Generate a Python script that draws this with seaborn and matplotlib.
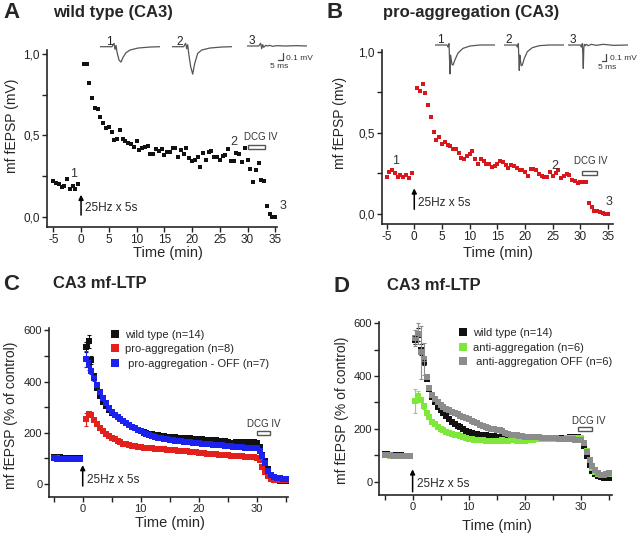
import numpy as np
import pandas as pd
import seaborn as sns
import matplotlib.pyplot as plt
from matplotlib.lines import Line2D
from matplotlib.patches import Rectangle

# sampling grid (min): baseline and post-tetanus
t_base = np.arange(-5.0, 0.0, 0.5)
t_post = np.arange(0.5, 35.01, 0.5)

# ---- panel A: wild type, single slice (mV)
a_base = [0.22, 0.205, 0.20, 0.185, 0.19, 0.23, 0.17, 0.19, 0.17, 0.20]
a_post = [0.936, 0.94, 0.82, 0.73, 0.67, 0.66, 0.615, 0.574, 0.545, 0.55,
          0.52, 0.47, 0.477, 0.53, 0.477, 0.463, 0.45, 0.446, 0.43, 0.463,
          0.41, 0.42, 0.43, 0.436, 0.387, 0.387, 0.418, 0.403, 0.418, 0.377,
          0.40, 0.395, 0.42, 0.42, 0.365, 0.41, 0.387, 0.42, 0.36, 0.344,
          0.35, 0.366, 0.305, 0.39, 0.35, 0.397, 0.405, 0.368, 0.364, 0.348,
          0.372, 0.38, 0.418, 0.342, 0.34, 0.39, 0.385, 0.335, 0.42, 0.35,
          0.296, 0.216, 0.286, 0.327, 0.228, 0.222, 0.068, 0.018, 0.0, 0.0]

# ---- panel B: pro-aggregation, single slice (mV)
b_base = [0.23, 0.26, 0.27, 0.25, 0.23, 0.24, 0.23, 0.24, 0.22, 0.25]
b_post = [0.774, 0.76, 0.80, 0.743, 0.67, 0.60, 0.503, 0.456, 0.476, 0.43,
          0.446, 0.425, 0.419, 0.40, 0.40, 0.374, 0.343, 0.341, 0.357, 0.37,
          0.386, 0.337, 0.306, 0.337, 0.324, 0.31, 0.31, 0.287, 0.296, 0.31,
          0.324, 0.318, 0.30, 0.283, 0.30, 0.293, 0.283, 0.273, 0.269, 0.256,
          0.236, 0.279, 0.279, 0.269, 0.248, 0.236, 0.231, 0.227, 0.256, 0.236,
          0.252, 0.269, 0.219, 0.236, 0.248, 0.242, 0.21, 0.202, 0.194, 0.20,
          0.20, 0.20, 0.07, 0.045, 0.02, 0.017, 0.012, 0.004, 0.0, 0.0]

# ---- panel C: % of control
c_wt_base = [106, 105, 104, 103, 102, 101, 100, 100, 99, 100]
c_wt_post = [535, 557, 485, 420, 375, 345, 322, 303, 288, 276,
             268, 260, 252, 244, 237, 231, 224, 218, 212, 207,
             203, 200, 197, 195, 193, 190, 188, 186, 185, 184,
             183, 182, 181, 180, 180, 179, 178, 177, 176, 175,
             174, 173, 172, 172, 171, 170, 169, 168, 166, 162,
             160, 161, 163, 164, 163, 163, 162, 160, 162, 160,
             146, 115, 88, 58, 32, 18, 14, 12, 12, 12]
c_wt_sem = [20, 25, 15, 10]
c_pro_base = [101, 100, 99, 98, 98, 97, 97, 97, 96, 97]
c_pro_post = [253, 274, 268, 250, 235, 220, 207, 196, 188, 180,
              174, 168, 163, 158, 155, 152, 149, 147, 145, 143,
              142, 141, 140, 139, 138, 137, 136, 135, 134, 133,
              132, 131, 130, 129, 128, 127, 126, 125, 124, 122,
              121, 120, 119, 118, 117, 116, 115, 114, 113, 112,
              111, 110, 110, 109, 108, 107, 106, 105, 104, 103,
              92, 66, 45, 30, 21, 17, 16, 16, 15, 15]
c_pro_sem = [25, 10, 8, 8]
c_off_base = [100, 99, 98, 98, 97, 97, 96, 97, 96, 96]
c_off_post = [488, 465, 440, 413, 385, 361, 337, 315, 298, 283,
              271, 260, 252, 244, 237, 231, 224, 218, 212, 207,
              201, 196, 192, 188, 184, 181, 178, 176, 174, 172,
              170, 169, 167, 166, 165, 164, 163, 161, 160, 159,
              158, 157, 156, 155, 154, 153, 152, 151, 150, 149,
              147, 146, 145, 144, 143, 141, 140, 140, 139, 139,
              128, 110, 82, 52, 35, 26, 23, 22, 21, 21]
c_off_sem = [30, 20, 12, 10]

# ---- panel D: % of control
d_wt_base = [106, 105, 103, 102, 101, 100, 100, 99, 99, 97]
d_wt_post = [538, 557, 500, 452, 390, 350, 320, 300, 283, 272,
             262, 248, 238, 228, 220, 212, 206, 199, 193, 188,
             185, 182, 180, 178, 176, 175, 173, 172, 172, 171,
             171, 170, 170, 170, 170, 169, 169, 169, 168, 168,
             168, 167, 167, 167, 166, 166, 166, 165, 165, 165,
             165, 166, 166, 167, 167, 168, 168, 168, 168, 167,
             135, 97, 62, 42, 30, 21, 16, 13, 13, 13]
d_wt_sem = [15, 25, 20, 10]
d_anti_base = [101, 100, 99, 98, 98, 97, 97, 97, 96, 96]
d_anti_post = [305, 325, 310, 285, 260, 245, 228, 218, 209, 201,
               196, 190, 186, 182, 178, 175, 172, 169, 166, 163,
               161, 159, 158, 157, 157, 156, 156, 156, 156, 156,
               156, 157, 156, 156, 157, 157, 156, 156, 156, 156,
               157, 158, 159, 160, 161, 161, 162, 162, 162, 163,
               163, 163, 163, 163, 164, 164, 164, 165, 165, 165,
               146, 118, 82, 51, 38, 30, 25, 27, 29, 29]
d_anti_sem = [45, 20, 10, 8]
d_off_base = [103, 102, 100, 99, 99, 98, 98, 97, 97, 96]
d_off_post = [545, 560, 490, 465, 395, 355, 330, 313, 300, 290,
              282, 276, 270, 265, 260, 255, 250, 245, 240, 236,
              231, 226, 221, 216, 211, 207, 203, 200, 198, 196,
              194, 192, 186, 181, 178, 177, 176, 174, 172, 171,
              170, 169, 169, 168, 168, 167, 167, 166, 165, 165,
              164, 163, 162, 162, 161, 160, 160, 159, 158, 158,
              146, 112, 82, 60, 45, 34, 27, 27, 30, 32]
d_off_sem = [30, 40, 100, 60]

# ---- example fEPSP traces (ms, mV)
trace_a_t = [0, 12, 13, 14, 15, 16, 17, 19, 21, 23, 26, 30, 38, 50, 60]
trace_a1 = [0, 0, 0.03, 0.05, -0.04, 0.02, -0.08, -0.2, -0.23, -0.16,
            -0.09, -0.05, -0.02, -0.005, 0]
trace_a2 = [0, 0, 0.03, 0.05, -0.03, 0.03, -0.1, -0.3, -0.41, -0.25,
            -0.1, -0.05, -0.02, -0.005, 0]
trace_a3 = [0, 0, 0.02, 0.04, -0.04, 0.02, -0.02, 0.01, 0.0, 0.01,
            -0.005, 0.005, 0, 0.005, 0]
trace_b_t = [0, 12, 13, 14, 14.5, 15, 15.5, 16, 17, 18, 20, 23, 28, 35, 45, 60]
trace_b1 = [0, 0, -0.03, 0.02, -0.2, -0.43, -0.15, -0.2, -0.29, -0.3,
            -0.22, -0.12, -0.05, -0.015, 0, 0]
trace_b2 = [0, 0, -0.03, 0.02, -0.18, -0.38, -0.15, -0.22, -0.31, -0.3,
            -0.2, -0.1, -0.04, -0.01, 0, 0]
trace_b3 = [0, 0, -0.03, 0.02, -0.12, -0.35, -0.05, 0.01, -0.01, 0.01,
            -0.01, 0.01, -0.005, 0.01, -0.005, 0]

RED = '#e3211c'
BLUE = '#1c22ee'
GREEN = '#7ee83a'
GRAY = '#8c8c8c'
TRACE = '#555555'

W, H = 640, 536

sns.set_style('ticks')
plt.rcParams['font.family'] = ['Liberation Sans', 'DejaVu Sans']
fig = plt.figure(figsize=(W / 100, H / 100), dpi=100)


def px_axes(x0, x1, y0, y1):
    return fig.add_axes([x0 / W, 1 - y1 / H, (x1 - x0) / W, (y1 - y0) / H])


def fig_text(x, y, s, **kw):
    fig.text(x / W, 1 - y / H, s, **kw)


def draw_series(ax, base, post, color, size, sem=None):
    df = pd.DataFrame({'time': np.concatenate([t_base, t_post]),
                       'value': list(base) + list(post)})
    if sem is not None:
        n = len(sem)
        ax.errorbar(t_post[:n], post[:n], yerr=sem, fmt='none',
                    ecolor=color, elinewidth=0.8, capsize=1.5, capthick=0.8)
    sns.scatterplot(data=df, x='time', y='value', marker='s', s=size,
                    color=color, linewidth=0, ax=ax, legend=False)


def style_axis(ax, xlim, ylim, xticks, xlabels, yticks, ylabels, fs):
    ax.set_xlim(xlim)
    ax.set_ylim(ylim)
    ax.set_xticks(xticks)
    ax.set_xticklabels(xlabels)
    ax.set_yticks(yticks)
    ax.set_yticklabels(ylabels)
    ax.set_xlabel('')
    ax.set_ylabel('')
    sns.despine(ax=ax)
    ax.tick_params(direction='out', length=3.5, width=1, labelsize=fs,
                   pad=1.5, colors='#222')
    for s in ['left', 'bottom']:
        ax.spines[s].set_linewidth(1.2)
    ax.patch.set_alpha(0)


def stim_arrow(ax, y0, y1, tx, ty):
    ax.annotate('', xy=(0, y1), xytext=(0, y0),
                arrowprops=dict(arrowstyle='-|>', color='k', lw=1.1,
                                mutation_scale=7, shrinkA=0, shrinkB=0))
    ax.text(tx, ty, '25Hz x 5s', fontsize=8.5, va='baseline', ha='left')


def dcg_bar(ax, x0, x1, y0, h, tx, ty):
    ax.add_patch(Rectangle((x0, y0), x1 - x0, h, facecolor='white',
                           edgecolor='#555555', lw=1, clip_on=False))
    ax.text(tx, ty, 'DCG IV', fontsize=7, ha='center', va='baseline',
            color='#333')


def draw_trace(x0, base_y, tt, vv, label, lab_x):
    ax = px_axes(x0, x0 + 60, base_y - 6.7, base_y + 30.15)
    sns.lineplot(x=tt, y=vv, ax=ax, color=TRACE, lw=0.9)
    ax.set_xlim(0, 60)
    ax.set_ylim(-0.45, 0.1)
    ax.axis('off')
    ax.text(lab_x, 0.03, label, fontsize=8.5, ha='left', va='baseline',
            color='#222')
    return ax


def scale_bar(ax, x0, x1, y0, y1, vtx, vty, htx, hty):
    ax.plot([x0, x1, x1], [y0, y0, y1], color='#444', lw=0.9, clip_on=False)
    ax.text(vtx, vty, '0.1 mV', fontsize=6, va='center', ha='left',
            color='#333', clip_on=False)
    ax.text(htx, hty, '5 ms', fontsize=6, va='top', ha='center',
            color='#333', clip_on=False)


# ================= panel A
axA = px_axes(46.7, 276.7, 50, 226.7)
draw_series(axA, a_base, a_post, '#111111', 12)
style_axis(axA, (-6.19, 35.26), (-0.0615, 1.0246),
           list(range(-5, 36, 5)), [str(v) for v in range(-5, 36, 5)],
           [0, 0.25, 0.5, 0.75, 1.0], ['0,0', '', '0,5', '', '1,0'], 8.5)
stim_arrow(axA, 0.01, 0.135, 0.72, 0.037)
dcg_bar(axA, 30.1, 33.2, 0.418, 0.025, 32.4, 0.471)
axA.text(-1.35, 0.246, '1', fontsize=9, ha='center', va='baseline', color='#333')
axA.text(27.5, 0.44, '2', fontsize=9, ha='center', va='baseline', color='#333')
axA.text(36.45, 0.045, '3', fontsize=9, ha='center', va='baseline', color='#333',
         clip_on=False)

draw_trace(100, 46.7, trace_a_t, trace_a1, '1', 6)
draw_trace(171.7, 46.7, trace_a_t, trace_a2, '2', 5)
ta3 = draw_trace(246.7, 46, trace_a_t, trace_a3, '3', 1.5)
scale_bar(ta3, 31.6, 36.6, -0.21, -0.11, 39.3, -0.18, 32.3, -0.25)

fig_text(3, 18.3, 'A', fontsize=16, fontweight='bold', va='baseline')
fig_text(53.3, 16.7, 'wild type (CA3)', fontsize=12, fontweight='bold',
         va='baseline')
fig_text(11.7, 125.8, 'mf fEPSP (mV)', fontsize=10, rotation=90,
         ha='center', va='center')
fig_text(167.5, 257.5, 'Time (min)', fontsize=10.5, ha='center', va='baseline')

# ================= panel B
axB = px_axes(381.7, 613, 50, 224.3)
draw_series(axB, b_base, b_post, '#d9161c', 12)
style_axis(axB, (-5.88, 35.87), (-0.0635, 1.0105),
           list(range(-5, 36, 5)), [str(v) for v in range(-5, 36, 5)],
           [0, 0.25, 0.5, 0.75, 1.0], ['0,0', '', '0,5', '', '1,0'], 8.5)
stim_arrow(axB, 0.029, 0.158, 0.72, 0.049)
dcg_bar(axB, 30.2, 32.9, 0.241, 0.027, 31.8, 0.306)
axB.text(-3.3, 0.306, '1', fontsize=9, ha='center', va='baseline', color='#333')
axB.text(25.4, 0.28, '2', fontsize=9, ha='center', va='baseline', color='#333')
axB.text(35.1, 0.055, '3', fontsize=9, ha='center', va='baseline', color='#333',
         clip_on=False)

draw_trace(435, 45, trace_b_t, trace_b1, '1', 2)
draw_trace(504.3, 45, trace_b_t, trace_b2, '2', 0.7)
tb3 = draw_trace(568.3, 45, trace_b_t, trace_b3, '3', 1)
scale_bar(tb3, 33.4, 37.7, -0.234, -0.134, 41.7, -0.2, 39.2, -0.29)

fig_text(326.7, 18.3, 'B', fontsize=16, fontweight='bold', va='baseline')
fig_text(383.3, 17.3, 'pro-aggregation (CA3)', fontsize=12,
         fontweight='bold', va='baseline')
fig_text(340, 123.3, 'mf fEPSP (mv)', fontsize=10, rotation=90,
         ha='center', va='center')
fig_text(497.5, 256.5, 'Time (min)', fontsize=10.5, ha='center', va='baseline')

# ================= panel C
xt = list(range(-5, 36, 5))
xtl = ['' if v % 10 else str(v) for v in xt]
yt = list(range(0, 601, 100))
ytl = [str(v) if v % 200 == 0 else '' for v in yt]

axC = px_axes(49.3, 288, 328, 496.7)
draw_series(axC, c_wt_base, c_wt_post, '#111111', 14, c_wt_sem)
draw_series(axC, c_pro_base, c_pro_post, RED, 14, c_pro_sem)
draw_series(axC, c_off_base, c_off_post, BLUE, 14, c_off_sem)
style_axis(axC, (-5.76, 35.4), (-49.6, 609), xt, xtl, yt, ytl, 8)
stim_arrow(axC, -8, 74, 0.8, 3)
dcg_bar(axC, 30.0, 32.3, 190, 15.6, 31.3, 221)
handles = [Line2D([], [], marker='s', ls='', color=c, markersize=5.5,
                  markeredgewidth=0) for c in ['#111111', RED, BLUE]]
axC.legend(handles, ['wild type (n=14)', 'pro-aggregation (n=8)',
                     ' pro-aggregation - OFF (n=7)'],
           loc='upper left', bbox_to_anchor=(111.5 / W, 1 - 329.5 / H),
           bbox_transform=fig.transFigure, frameon=False, fontsize=8,
           handlelength=0.6, handletextpad=0.65, labelspacing=0.42,
           borderpad=0, borderaxespad=0)

fig_text(3.3, 290, 'C', fontsize=16, fontweight='bold', va='baseline')
fig_text(53.3, 288.3, 'CA3 mf-LTP', fontsize=12, fontweight='bold',
         va='baseline')
fig_text(11, 415, 'mf fEPSP (% of control)', fontsize=10, rotation=90,
         ha='center', va='center')
fig_text(170, 527.5, 'Time (min)', fontsize=10.5, ha='center', va='baseline')

# ================= panel D
axD = px_axes(379.3, 612, 321.7, 495.3)
draw_series(axD, d_wt_base, d_wt_post, '#111111', 14, d_wt_sem)
draw_series(axD, d_anti_base, d_anti_post, GREEN, 14, d_anti_sem)
draw_series(axD, d_off_base, d_off_post, GRAY, 14, d_off_sem)
style_axis(axD, (-5.93, 35.5), (-51.5, 606), xt, xtl, yt, ytl, 8)
stim_arrow(axD, -38, 47, 0.7, -21)
dcg_bar(axD, 29.4, 32.0, 191, 15, 31.4, 218)
handles = [Line2D([], [], marker='s', ls='', color=c, markersize=5.5,
                  markeredgewidth=0) for c in ['#111111', GREEN, GRAY]]
axD.legend(handles, ['wild type (n=14)', 'anti-aggregation (n=6)',
                     ' anti-aggregation OFF (n=6)'],
           loc='upper left', bbox_to_anchor=(459.5 / W, 1 - 328 / H),
           bbox_transform=fig.transFigure, frameon=False, fontsize=8,
           handlelength=0.6, handletextpad=0.65, labelspacing=0.42,
           borderpad=0, borderaxespad=0)

fig_text(333.3, 291.7, 'D', fontsize=16, fontweight='bold', va='baseline')
fig_text(386.7, 290, 'CA3 mf-LTP', fontsize=12, fontweight='bold',
         va='baseline')
fig_text(342.3, 410, 'mf fEPSP (% of control)', fontsize=10, rotation=90,
         ha='center', va='center')
fig_text(496.7, 530, 'Time (min)', fontsize=10.5, ha='center', va='baseline')

fig.savefig('out.png', dpi=100)
